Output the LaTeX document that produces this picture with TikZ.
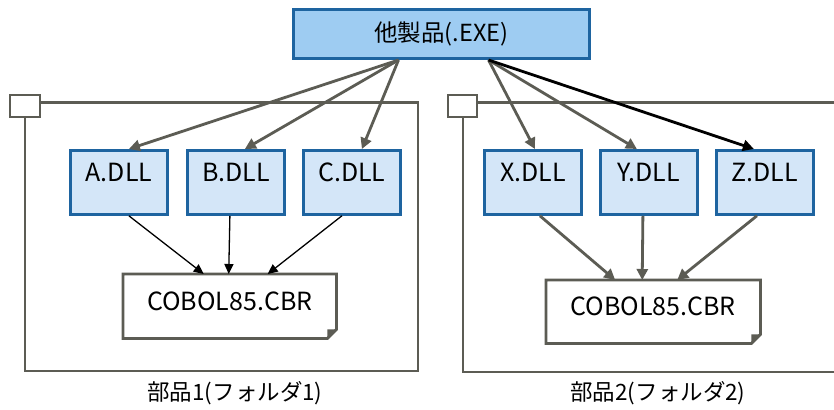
\documentclass[tikz,border=0pt]{standalone}
\usepackage{fontspec}
\setmainfont{Noto Sans CJK JP}
\usetikzlibrary{arrows.meta}
\definecolor{topfill}{RGB}{158,204,242}
\definecolor{dllfill}{RGB}{212,230,248}
\definecolor{bluebd}{RGB}{30,100,160}
\definecolor{grayln}{RGB}{92,92,84}
\tikzset{
  topbox/.style={draw=bluebd, fill=topfill, line width=3pt, minimum width=296pt, inner xsep=0pt, inner ysep=0pt, text height=32pt, text depth=17pt, font=\fontsize{23.5}{26}\selectfont},
  dllbox/.style={draw=bluebd, fill=dllfill, line width=2.8pt, minimum width=97pt, inner xsep=0pt, inner ysep=0pt, text height=31pt, text depth=33pt, font=\fontsize{25}{28}\selectfont},
  cbrbox/.style={minimum width=213pt, inner xsep=0pt, inner ysep=0pt, text height=36pt, text depth=28pt, font=\fontsize{25}{28}\selectfont},
  cbrline/.style={draw=grayln, line width=2.8pt, line join=miter},
  folder/.style={draw=grayln, line width=2.8pt},
  grayarrow/.style={draw=grayln, line width=2.8pt, -{Triangle[length=11pt,width=11pt]}},
  thinarrow/.style={draw=black, line width=1.3pt, -{Triangle[length=10pt,width=9pt]}},
  blackarrow/.style={draw=black, line width=2.8pt, -{Triangle[length=11pt,width=11pt]}},
  lbl/.style={font=\fontsize{22.5}{25}\selectfont, inner sep=0pt}
}
\begin{document}
\begin{tikzpicture}[x=1pt,y=-1pt]
\useasboundingbox (0,0) rectangle (834,409);
\clip (0,0) rectangle (834,409);
\fill[white] (0,0) rectangle (834,409);

% folder 1
\draw[folder] (40,102.5) -- (418,102.5) -- (418,371) -- (25,371) -- (25,117);
\draw[folder, fill=white] (10,95) rectangle (40,117);
% folder 2
\draw[folder] (477,102.5) -- (840,102.5);
\draw[folder] (463,117) -- (463,372) -- (840,372);
\draw[folder, fill=white] (448,95) rectangle (477,117);

\node[topbox, anchor=north west] (top) at (292,8) {他製品(.EXE)};

\node[dllbox, anchor=north west] (A) at (69,149) {A.DLL};
\node[dllbox, anchor=north west] (B) at (186,149) {B.DLL};
\node[dllbox, anchor=north west] (C) at (302,149) {C.DLL};
\node[dllbox, anchor=north west] (X) at (483,149) {X.DLL};
\node[dllbox, anchor=north west] (Y) at (599,149) {Y.DLL};
\node[dllbox, anchor=north west] (Z) at (715,149) {Z.DLL};

\node[cbrbox, anchor=north west] (c1) at (123,274) {COBOL85.CBR};
\node[cbrbox, minimum width=214pt, text height=35pt, anchor=north west] (c2) at (546,280) {COBOL85.CBR};

\foreach \n in {c1,c2}{
  \draw[cbrline] (\n.north west) -- (\n.north east) -- ([yshift=9pt]\n.south east) -- ([xshift=-9pt]\n.south east) -- (\n.south west) -- cycle;
  \fill[grayln] ([yshift=9pt]\n.south east) -- ([xshift=-9pt]\n.south east) -- ([xshift=-9pt,yshift=9pt]\n.south east) -- cycle;
}

\node[lbl] (l1) at (235,393) {部品1(フォルダ1)};
\node[lbl] (l2) at (658,393) {部品2(フォルダ2)};

% top arrows
\draw[grayarrow] ([xshift=-43pt]top.south) -- ([xshift=10pt]A.north);
\draw[grayarrow] ([xshift=-43pt]top.south) -- ([xshift=9pt]B.north);
\draw[grayarrow] ([xshift=-43pt]top.south) -- ([xshift=10pt]C.north);
\draw[grayarrow] ([xshift=47pt]top.south) -- ([xshift=2pt]X.north);
\draw[grayarrow] ([xshift=47pt]top.south) -- ([xshift=-12pt]Y.north);
\draw[blackarrow] ([xshift=47pt]top.south) -- ([xshift=-11pt]Z.north);

% bottom arrows
\draw[thinarrow] ([xshift=10pt]A.south) -- ([xshift=-26pt]c1.north);
\draw[thinarrow] ([xshift=-6pt]B.south) -- ([xshift=-1pt]c1.north);
\draw[thinarrow] ([xshift=-10pt]C.south) -- ([xshift=38pt]c1.north);
\draw[grayarrow] ([xshift=7pt]X.south) -- ([xshift=-38pt]c2.north);
\draw[grayarrow] ([xshift=-6pt]Y.south) -- ([xshift=-11pt]c2.north);
\draw[grayarrow] ([xshift=-8pt]Z.south) -- ([xshift=24pt]c2.north);
\end{tikzpicture}
\end{document}
